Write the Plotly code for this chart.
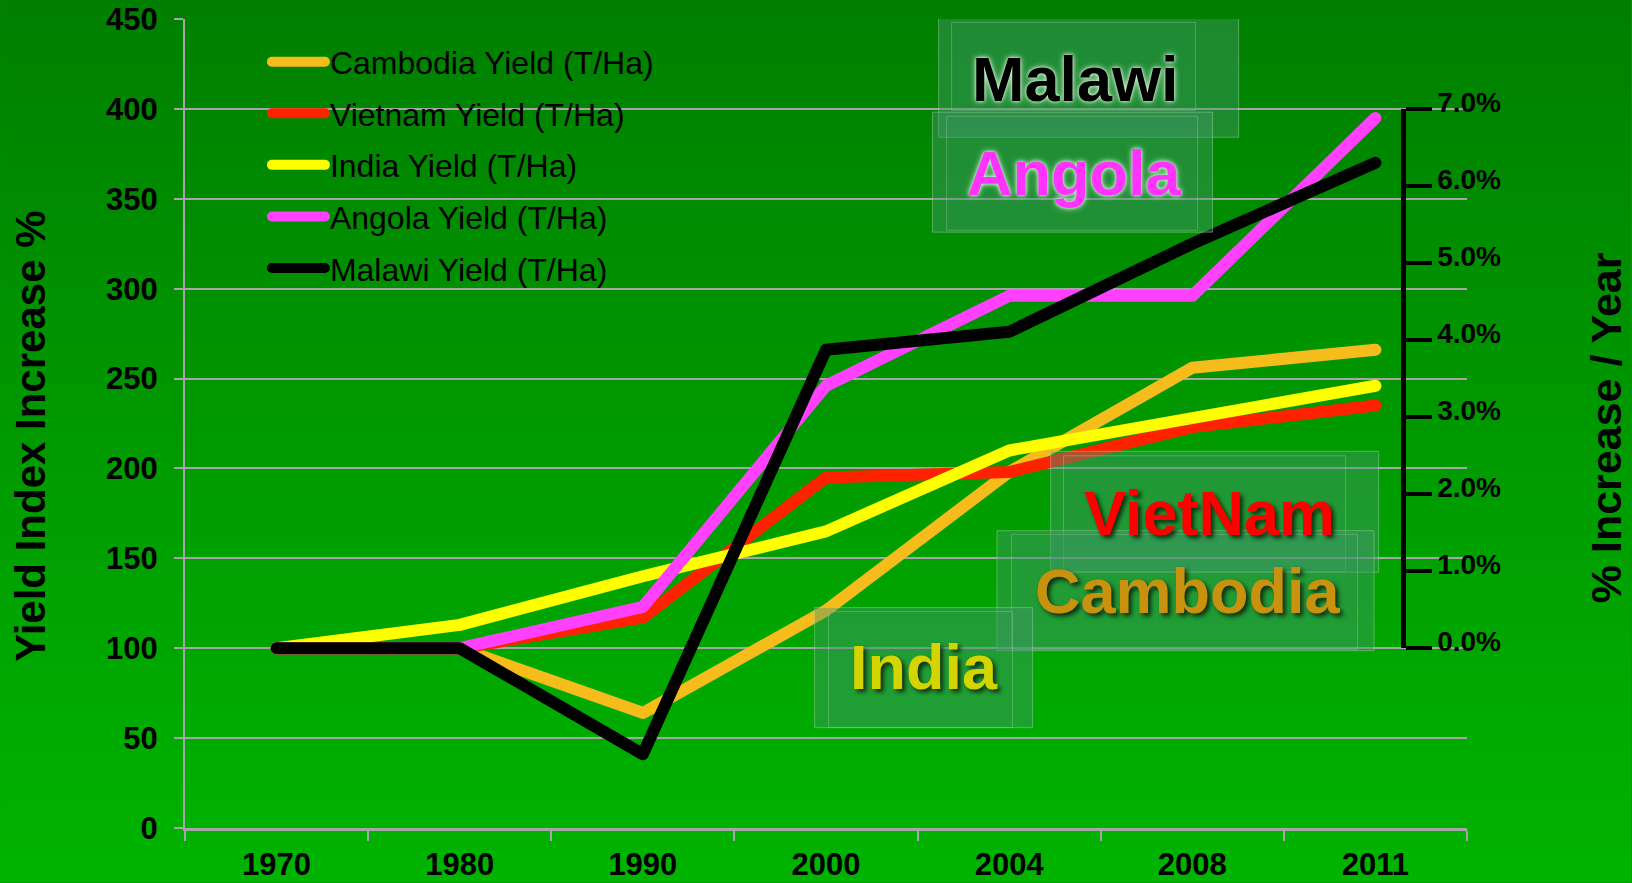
import base64
import plotly.graph_objects as go

# ---------------- data ----------------
years = ["1970", "1980", "1990", "2000", "2004", "2008", "2011"]
cambodia = [100, 100, 64, 121, 198, 256, 266]
vietnam = [100, 100, 117, 195, 198, 223, 235]
india = [100, 113, 140, 165, 210, 228, 246]
angola = [100, 100, 123, 246, 296, 296, 395]
malawi = [100, 100, 41, 266, 276, 325, 370]

series_names = ["Cambodia Yield (T/Ha)", "Vietnam Yield (T/Ha)", "India Yield (T/Ha)",
                "Angola Yield (T/Ha)", "Malawi Yield (T/Ha)"]
series_values = [cambodia, vietnam, india, angola, malawi]
series_colors = ["#f5bc1c", "#ff2200", "#ffff00", "#ff40ff", "#000000"]

left_ticks = [0, 50, 100, 150, 200, 250, 300, 350, 400, 450]
pct_ticks = [0, 1, 2, 3, 4, 5, 6, 7]

# label boxes: text, colour, shadow, text pos (idx, value), outer box (idx, value, w, h), inner box
labels = [
    ("Malawi", "#000000", "0 0 6px #d8f5d8, 0 0 3px #d8f5d8", (4.363, 416.8), (4.434, 417.6, 300, 120), (4.352, 423.7, 244, 88)),
    ("Angola", "#ff33ff", "0 0 6px #d8f5d8, 0 0 3px #d8f5d8", (4.355, 364.5), (4.346, 364.8, 280, 120), (4.344, 364.2, 251, 114)),
    ("VietNam", "#ff0000", "3px 3px 4px #103010", (5.094, 175.0), (5.122, 175.9, 328, 121), (5.067, 174.8, 282, 116)),
    ("Cambodia", "#c8920f", "3px 3px 4px #103010", (4.977, 131.7), (4.963, 132.0, 377, 120), (4.958, 131.4, 346, 115)),
    ("India", "#d4d400", "3px 3px 4px #103010", (3.533, 89.7), (3.533, 89.2, 218, 120), (3.516, 88.1, 184, 116)),
]

FONT = "Liberation Sans, Arial, sans-serif"

fig = go.Figure()
for i, (name, vals, col) in enumerate(zip(series_names, series_values, series_colors)):
    fig.add_trace(go.Scatter(
        x=years, y=vals, name=name, mode="lines",
        line=dict(color=col, width=12),
        legendgroup=f"g{i}",
    ))

# invisible trace to activate the secondary (percentage) axis
fig.add_trace(go.Scatter(x=[years[0]], y=[pct_ticks[0]], yaxis="y2", mode="markers",
                         marker=dict(opacity=0), showlegend=False, hoverinfo="skip"))

# gradient background (svg data uri)
svg = ('<svg xmlns="http://www.w3.org/2000/svg" width="100" height="100" preserveAspectRatio="none">'
       '<defs><linearGradient id="g" x1="0" y1="0" x2="0" y2="1">'
       '<stop offset="0" stop-color="#007f00"/><stop offset="1" stop-color="#00b400"/>'
       '</linearGradient></defs><rect width="100" height="100" fill="url(#g)"/></svg>')
uri = "data:image/svg+xml;base64," + base64.b64encode(svg.encode()).decode()

W, H = 1632, 883
L, R, T, B = 185, 164.5, 19, 54.5
pw, ph = W - L - R, H - T - B

shapes = []
annotations = []
for text, col, shadow, tpos, outer, inner in labels:
    for (bx, by, bw, bh), fill, line in [(outer, "rgba(70,150,110,0.42)", "rgba(170,215,170,0.45)"),
                                         (inner, "rgba(60,150,110,0.12)", "rgba(170,215,170,0.35)")]:
        shapes.append(dict(type="rect", xref="x", yref="y", xsizemode="pixel", ysizemode="pixel",
                           xanchor=bx, yanchor=by, x0=-bw / 2, x1=bw / 2, y0=-bh / 2, y1=bh / 2,
                           fillcolor=fill, line=dict(color=line, width=1), layer="above"))
    annotations.append(dict(x=tpos[0], y=tpos[1], xref="x", yref="y", text=text, showarrow=False,
                            xanchor="center", yanchor="middle",
                            font=dict(family=FONT, size=63, color=col, weight="bold", shadow=shadow)))

annotations.append(dict(text="Yield Index Increase %", x=(31 - L) / pw, y=(H - B - 437) / ph,
                        xref="paper", yref="paper", xanchor="center", yanchor="middle",
                        showarrow=False, textangle=-90,
                        font=dict(family=FONT, size=42, color="black", weight="bold")))
annotations.append(dict(text="% Increase / Year", x=(1606 - L) / pw, y=(H - B - 428) / ph,
                        xref="paper", yref="paper", xanchor="center", yanchor="middle",
                        showarrow=False, textangle=-90,
                        font=dict(family=FONT, size=43, color="black", weight="bold")))

fig.update_layout(
    width=W, height=H,
    margin=dict(l=L, r=R, t=T, b=B, autoexpand=False),
    paper_bgcolor="#009a00", plot_bgcolor="rgba(0,0,0,0)",
    images=[dict(source=uri, xref="paper", yref="paper", x=-L / pw, y=1 + T / ph,
                 sizex=W / pw, sizey=H / ph, sizing="stretch", layer="below",
                 xanchor="left", yanchor="top")],
    xaxis=dict(type="category", range=[-0.5, 6.5], showgrid=False,
               showline=True, linecolor="#a6a6a6", linewidth=3,
               ticks="outside", tickson="boundaries", ticklen=10, tickwidth=2, tickcolor="#a6a6a6",
               ticklabelstandoff=7,
               tickfont=dict(family=FONT, size=31, color="black", weight="bold")),
    yaxis=dict(range=[0, 450], tickvals=left_ticks, showgrid=True, gridcolor="#a6a6a6", gridwidth=2,
               zeroline=False, showline=True, linecolor="#a6a6a6", linewidth=2,
               ticks="outside", ticklen=9, tickwidth=2, tickcolor="#a6a6a6", ticklabelstandoff=10,
               tickfont=dict(family=FONT, size=31, color="black", weight="bold")),
    yaxis2=dict(domain=[100 / 450, 400 / 450], range=[pct_ticks[0], pct_ticks[-1]],
                anchor="free", position=(1403 - L) / pw, side="right",
                tickvals=pct_ticks, ticktext=[f"{v:.1f}%" for v in pct_ticks],
                showgrid=False, zeroline=False, showline=True, linecolor="black", linewidth=5,
                ticks="outside", ticklen=26, tickwidth=4, tickcolor="black", ticklabelshift=-7,
                tickfont=dict(family=FONT, size=28, color="black", weight="bold")),
    legend=dict(x=0.0639, y=0.981, xanchor="left", yanchor="top", bgcolor="rgba(0,0,0,0)",
                font=dict(family=FONT, size=32, color="black"), tracegroupgap=7,
                itemwidth=53),
    showlegend=True,
    shapes=shapes,
    annotations=annotations,
)

post = """
document.documentElement.style.margin='0';
document.body.style.margin='0';
document.body.style.overflow='hidden';
var gd = document.getElementById('{plot_id}');
function roundLines(){
  document.querySelectorAll('.js-line').forEach(function(p){
    p.style.strokeLinecap='round'; p.style.strokeLinejoin='round';
  });
}
roundLines();
if (gd && gd.on) { gd.on('plotly_afterplot', roundLines); }
setTimeout(roundLines, 50);
"""

fig.write_html("out.html", post_script=post, config={"displayModeBar": False})
